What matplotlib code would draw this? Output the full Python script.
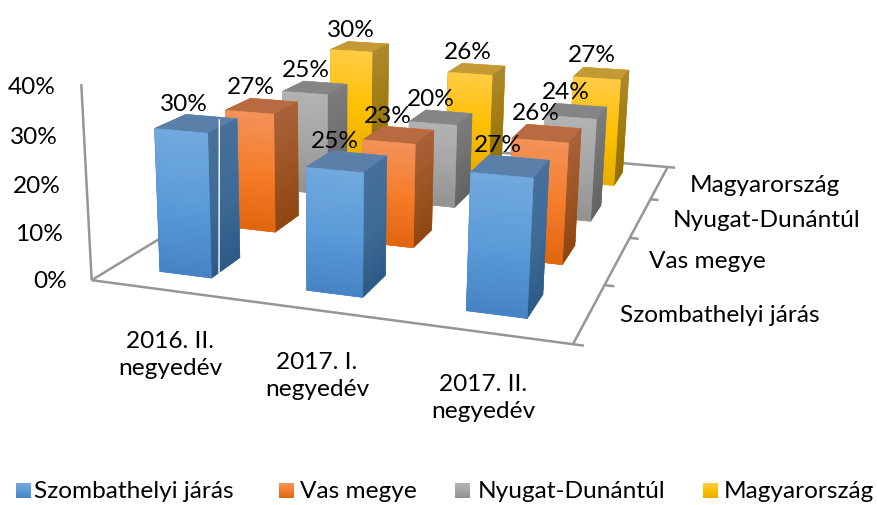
import numpy as np
import matplotlib
matplotlib.use("Agg")
import matplotlib.pyplot as plt
from matplotlib.colors import to_rgba
from matplotlib.lines import Line2D
from matplotlib.patches import Rectangle
from mpl_toolkits.mplot3d import proj3d

categories = ["2016. II.\nnegyedév", "2017. I.\nnegyedév", "2017. II.\nnegyedév"]
series_names = ["Szombathelyi járás", "Vas megye", "Nyugat-Dunántúl", "Magyarország"]
szombathely = [30, 25, 27]
vas = [27, 23, 26]
nyugat = [25, 20, 24]
magyar = [30, 26, 27]
z_ticks = [0, 10, 20, 30, 40]

# top, middle, bottom of front face, then side top, side middle, side bottom, top face
styles = [
    ["#72a9de", "#5b9bd9", "#4683c4", "#476f9b", "#3d6b96", "#2c5a86", "#5a7fa8"],
    ["#f39259", "#f67c2a", "#e0650f", "#a8603a", "#9c5424", "#8f4510", "#b86a40"],
    ["#b3b3b3", "#a5a5a5", "#929292", "#7b7b7b", "#6f6f6f", "#626262", "#858585"],
    ["#ffcb45", "#ffc000", "#e5ad00", "#ab872c", "#9f7c12", "#8f6d00", "#c49a35"],
]

W, H = 878, 506
FS = 17.6
plt.rcParams["font.family"] = ["Lato", "DejaVu Sans"]
fig = plt.figure(figsize=(W / 100, H / 100), dpi=100)


def fx(px):
    return px / W


def fy(py):
    return 1 - py / H


# camera worked out from the vanishing points of the picture
side = 925.7
ax = fig.add_axes([-145.4 / W, -180.4 / H, side / W, side / H], projection="3d", computed_zorder=False)
ax.set_proj_type("persp", focal_length=0.2694)
ax.view_init(elev=16.4, azim=-69.45)
ax.set_box_aspect((0.489, 0.5787, 0.2738))
ax.set_xlim(-1.098, 3)
ax.set_ylim(-0.723, 4)
ax.set_zlim(-34.24, 40)
ax.set_axis_off()
ax.patch.set_alpha(0)

line = dict(color="#969696", lw=1.8, zorder=1, solid_capstyle="butt")
ax.plot([0, 0], [0, 0], [0, 40], **line)
ax.plot([0, 3], [0, 0], [0, 0], **line)
ax.plot([0, 0], [0, 4], [0, 0], **line)
ax.plot([3, 3], [0, 4], [0, 0], **line)
ax.plot([0, 3], [4, 4], [0, 0], **line)
for j in range(5):
    ax.plot([3, 3.06], [j, j], [0, 0], **line)


def ramp(c1, c2, c3, t):
    stops = np.array([to_rgba(c1), to_rgba(c2), to_rgba(c3)])
    return [np.interp(t, [0, 0.5, 1], stops[:, k]) for k in range(4)]


bar_w = 0.36
bar_d = 0.42
n_slices = 24
xs, ys, zs, dzs, colors = [], [], [], [], []
all_values = [szombathely, vas, nyugat, magyar]
for j, values in enumerate(all_values):
    st = styles[j]
    for i, v in enumerate(values):
        edges = np.linspace(0, v, n_slices + 1)
        for k in range(n_slices):
            t = 1 - (k + 0.5) / n_slices
            front = ramp(st[0], st[1], st[2], t)
            right = ramp(st[3], st[4], st[5], t)
            top = to_rgba(st[6]) if k == n_slices - 1 else front
            xs.append(i + 0.5 - bar_w / 2)
            ys.append(j + 0.5 - bar_d / 2)
            zs.append(edges[k])
            dzs.append(edges[k + 1] - edges[k])
            # faces: -z, +z, -y, +y, -x, +x
            colors.extend([front, top, front, front, right, right])

colors = np.array(colors)
ax.bar3d(xs, ys, zs, bar_w, bar_d, dzs, color=colors, shade=False,
         edgecolors=colors, linewidths=0.4, zorder=2)

# value labels, projected by hand so they end up as plain 2D texts
M = ax.get_proj()
for j, values in enumerate(all_values):
    for i, v in enumerate(values):
        px, py, _ = proj3d.proj_transform(i + 0.42, j + 0.5, v + 4.0 + 0.2 * j, M)
        ax.text2D(px, py, f"{v}%", transform=ax.transData, ha="center", va="center",
                  fontsize=FS, color="black", zorder=5)

# the thin white seam on the first bar
fig.add_artist(Line2D([fx(219.3), fx(219.0)], [fy(121), fy(278)], color="white", lw=1))

for tick, py, right in zip(z_ticks, [282, 235, 187, 138, 87], [67, 63, 61, 58, 56]):
    fig.text(fx(right), fy(py), f"{tick}%", ha="right", va="center", fontsize=FS)

for name, cx, py in zip(categories, [170, 317, 483], [355, 376, 398]):
    fig.text(fx(cx), fy(py), name, ha="center", va="center", fontsize=FS, linespacing=1.35)

for name, left, py in zip(series_names, [620, 649, 673, 690], [316, 262, 221, 185]):
    fig.text(fx(left), fy(py), name, ha="left", va="center", fontsize=FS)

# legend
for name, st, sw_x, txt_x in zip(series_names, styles, [16, 279, 455, 703], [34, 300, 478, 724]):
    for k in range(15):
        c = ramp(st[0], st[1], st[2], k / 14)
        fig.add_artist(Rectangle((fx(sw_x), fy(484 + k + 1)), 15 / W, 1.2 / H, transform=fig.transFigure,
                                 facecolor=c, edgecolor="none"))
    fig.text(fx(txt_x), fy(492), name, ha="left", va="center", fontsize=FS)

fig.savefig("out.png", dpi=100)
